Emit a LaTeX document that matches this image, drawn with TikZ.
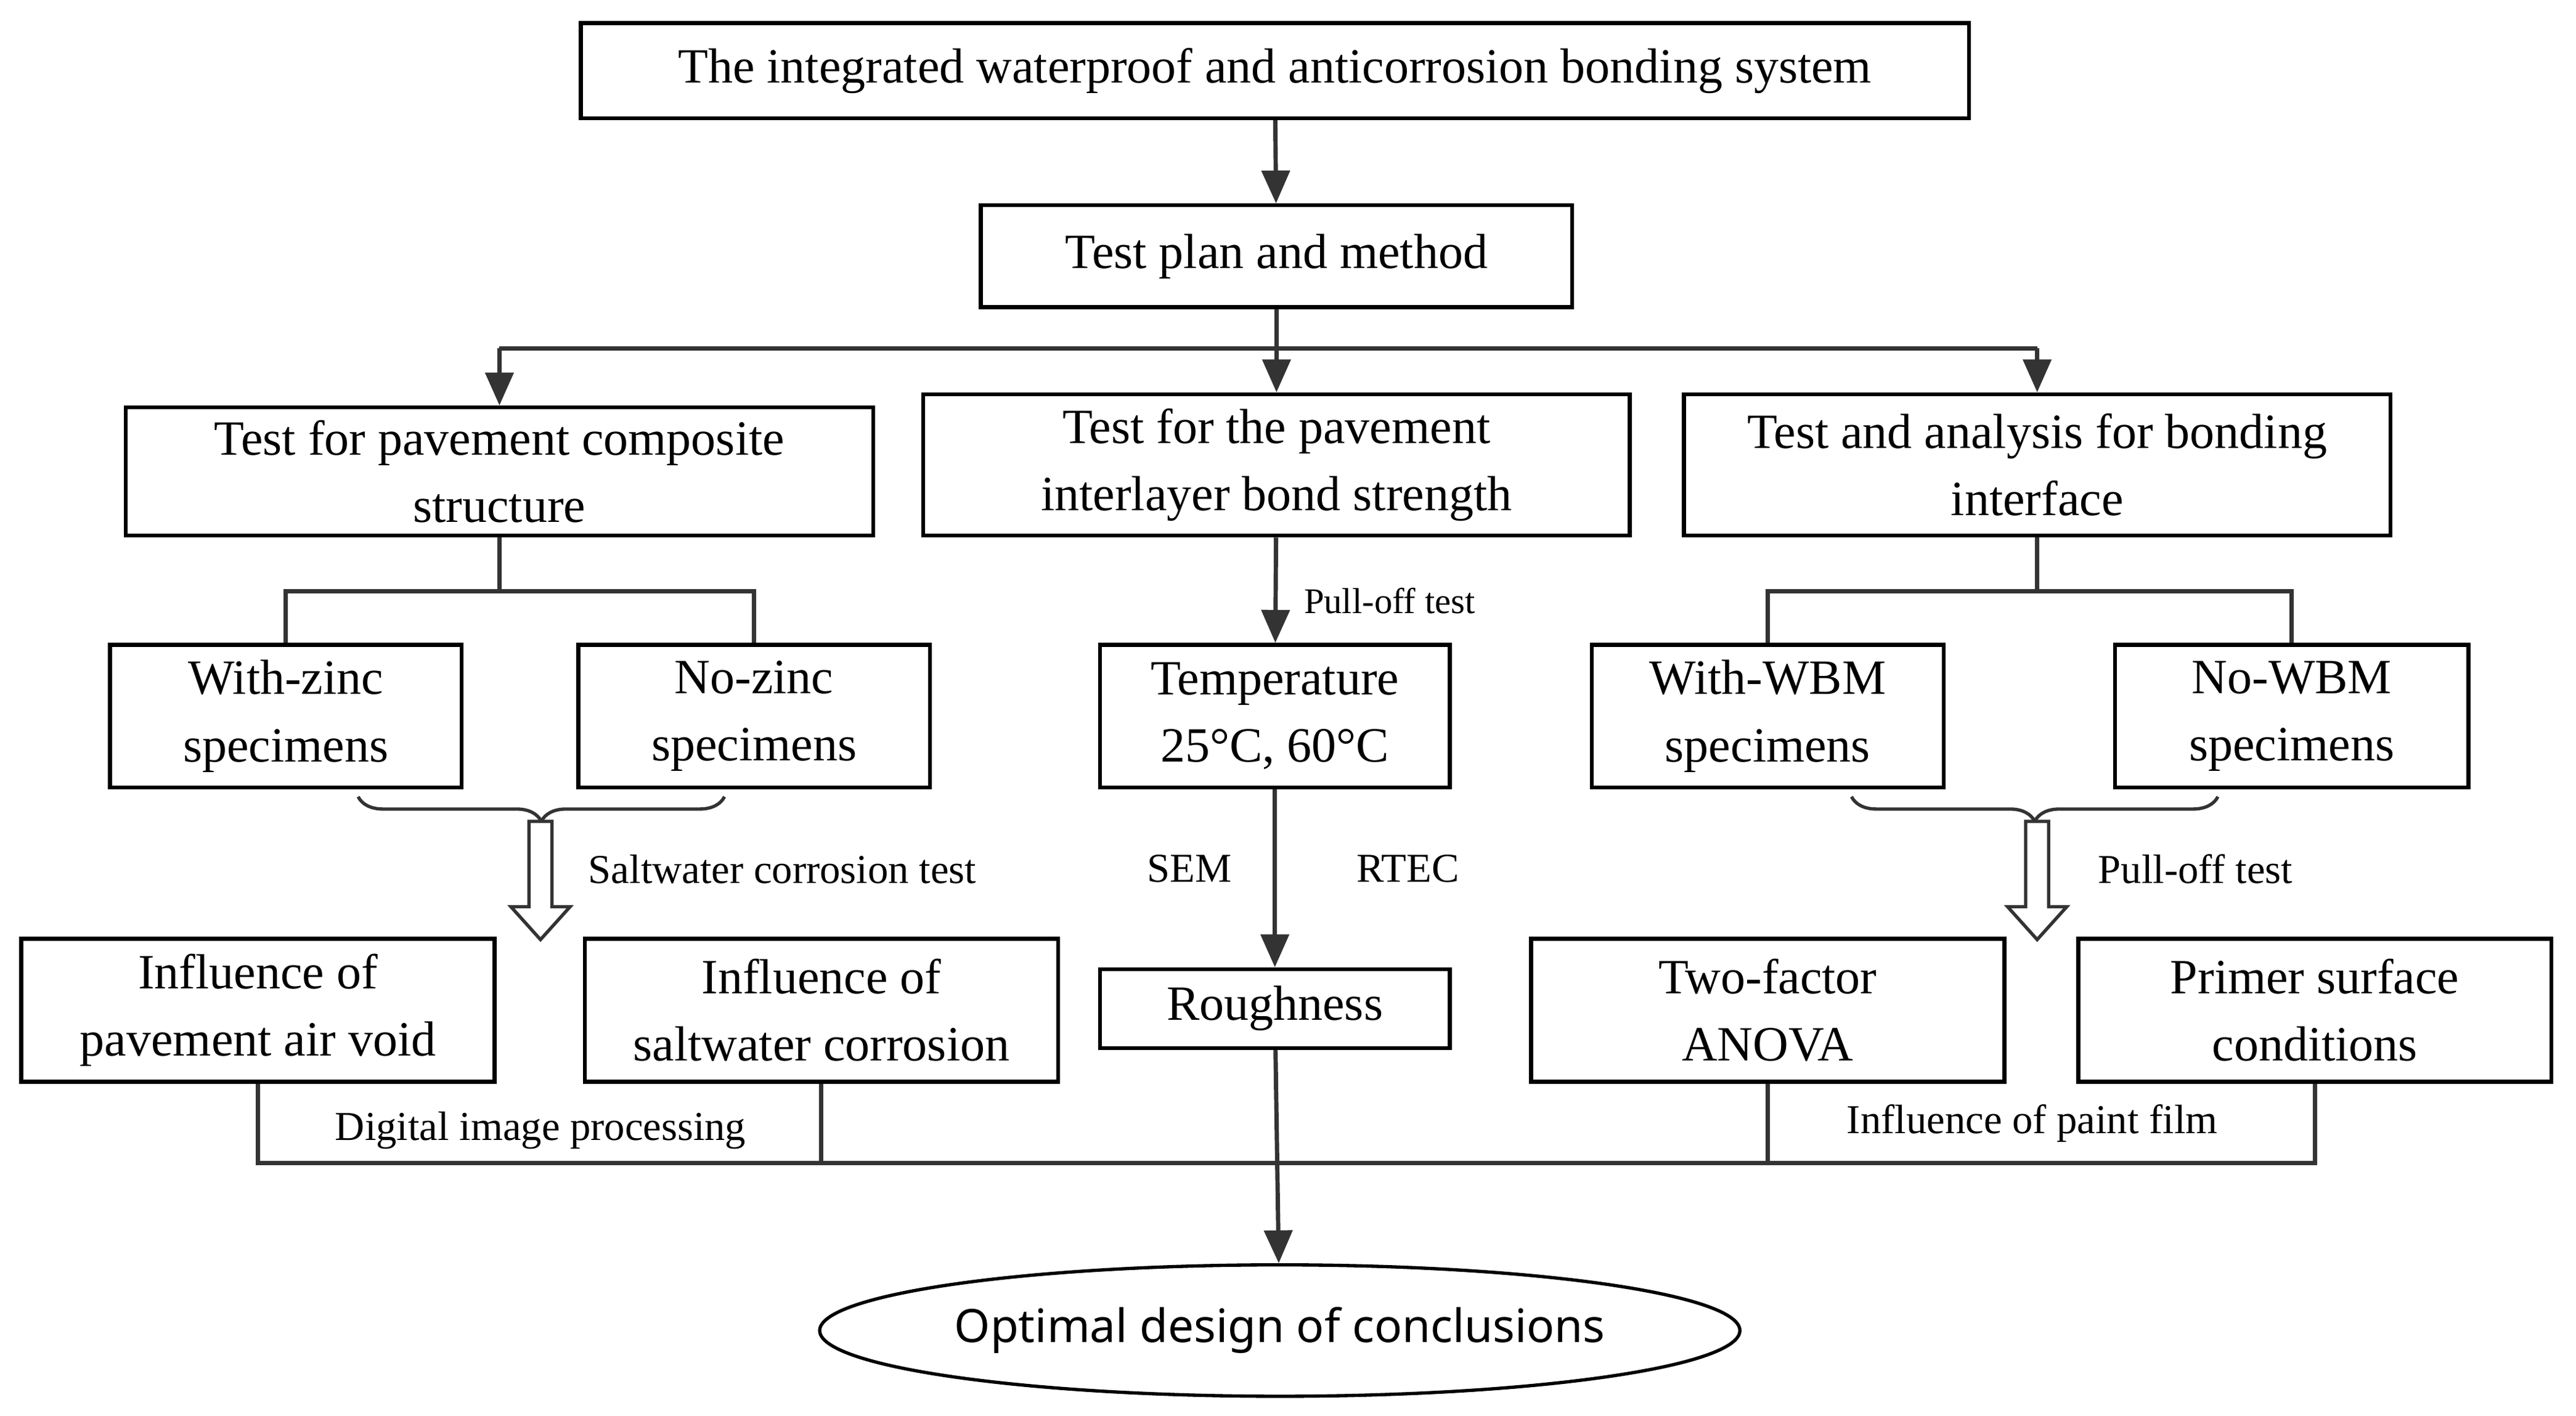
\documentclass[tikz,border=0pt]{standalone}
\usepackage{fontspec}
\setmainfont{Liberation Serif}
\newfontfamily\yahei{Noto Sans}
\usetikzlibrary{arrows.meta,decorations.pathreplacing,shapes.geometric}
\colorlet{ink}{black!80}
\begin{document}
\begin{tikzpicture}[
  x=1pt, y=-1pt,
  box/.style={
    draw=black,
    line width=2.4pt,
    align=center,
    inner sep=0pt,
    font=\fontsize{30}{41}\selectfont
  },
  note/.style={
    font=\fontsize{25}{30}\selectfont,
    inner sep=0pt
  },
  link/.style={
    draw=ink,
    line width=2.6pt
  },
  arrow/.style={
    link,
    -{Triangle[length=20pt,width=17pt]}
  },
  brace/.style={
    draw=ink,
    line width=2pt,
    decorate,
    decoration={brace,mirror,amplitude=15pt}
  },
  hollow/.style={
    draw=ink,
    line width=2pt,
    fill=white
  }
]%
\useasboundingbox (0,0) rectangle (1568,862);
% top levels
\node [box, minimum width=845pt, minimum height=58pt] (system) at (776,43) {The integrated waterproof and anticorrosion bonding system};
\node [box, minimum width=360pt, minimum height=62pt] (plan) at (777,156) {Test plan and method};
\node [box, minimum width=455pt, minimum height=78pt] (composite) at (304,287) {Test for pavement composite\\structure};
\node [box, minimum width=430pt, minimum height=86pt] (bond) at (777,283) {Test for the pavement\\interlayer bond strength};
\node [box, minimum width=430pt, minimum height=86pt] (interface) at (1240,283) {Test and analysis for bonding\\interface};
% left branch
\node [box, minimum width=214pt, minimum height=87pt] (withzinc) at (174,436) {With-zinc\\specimens};
\node [box, minimum width=214pt, minimum height=87pt] (nozinc) at (459,436) {No-zinc\\specimens};
\node [box, minimum width=288pt, minimum height=87pt] (airvoid) at (157,615) {Influence of\\pavement air void};
\node [box, minimum width=288pt, minimum height=87pt] (corrosion) at (500,615) {Influence of\\saltwater corrosion};
% middle branch
\node [box, minimum width=213pt, minimum height=87pt] (temperature) at (776,436) {Temperature\\25\textdegree C, 60\textdegree C};
\node [box, minimum width=213pt, minimum height=48pt] (roughness) at (776,614) {Roughness};
% right branch
\node [box, minimum width=214pt, minimum height=87pt] (withwbm) at (1076,436) {With-WBM\\specimens};
\node [box, minimum width=215pt, minimum height=87pt] (nowbm) at (1395,436) {No-WBM\\specimens};
\node [box, minimum width=288pt, minimum height=87pt] (anova) at (1076,615) {Two-factor\\ANOVA};
\node [box, minimum width=288pt, minimum height=87pt] (primer) at (1409,615) {Primer surface\\conditions};
% conclusion
\node [draw=black, line width=2pt, ellipse, minimum width=560pt, minimum height=80pt, inner sep=0pt,
  font=\yahei\fontsize{28}{32}\selectfont] (conclusion) at (779,810) {Optimal design of conclusions};
% connectors
\draw [arrow] (system) -- (plan);
\draw [arrow] (plan) -- (bond);
\draw [link] (304,212) -- (1240,212);
\draw [arrow] (304,212) -- (composite);
\draw [arrow] (1240,212) -- (interface);
\draw [link] (composite) -- (304,360);
\draw [link] (withzinc.north) |- (304,360) -| (nozinc.north);
\draw [link] (interface) -- (1240,360);
\draw [link] (withwbm.north) |- (1240,360) -| (nowbm.north);
\draw [arrow] (bond) -- (temperature)
  node [note, anchor=west, pos=0.6, xshift=16pt, font=\fontsize{22}{26}\selectfont] {Pull-off test};
\draw [arrow] (temperature) -- (roughness);
\node [note] at (724,529) {SEM};
\node [note] at (857,529) {RTEC};
% braces and hollow arrows
\draw [brace] (218,485) -- (441,485);
\draw [hollow] (322,500) -- (336,500) -- (336,552) -- (347,552) -- (329,572) -- (311,552) -- (322,552) -- cycle;
\node [note, anchor=west] at (358,529) {Saltwater corrosion test};
\draw [brace] (1127,485) -- (1350,485);
\draw [hollow] (1233,500) -- (1247,500) -- (1247,552) -- (1258,552) -- (1240,572) -- (1222,552) -- (1233,552) -- cycle;
\node [note, anchor=west] at (1277,529) {Pull-off test};
% bottom merge
\draw [link] (airvoid.south) -- (157,708) -- (1409,708) -- (primer.south);
\draw [link] (corrosion.south) -- (500,708);
\draw [link] (anova.south) -- (1076,708);
\draw [arrow] (roughness) -- (conclusion);
\node [note] at (329,688) {Digital image processing};
\node [note] at (1237,684) {Influence of paint film};
\end{tikzpicture}
\end{document}
